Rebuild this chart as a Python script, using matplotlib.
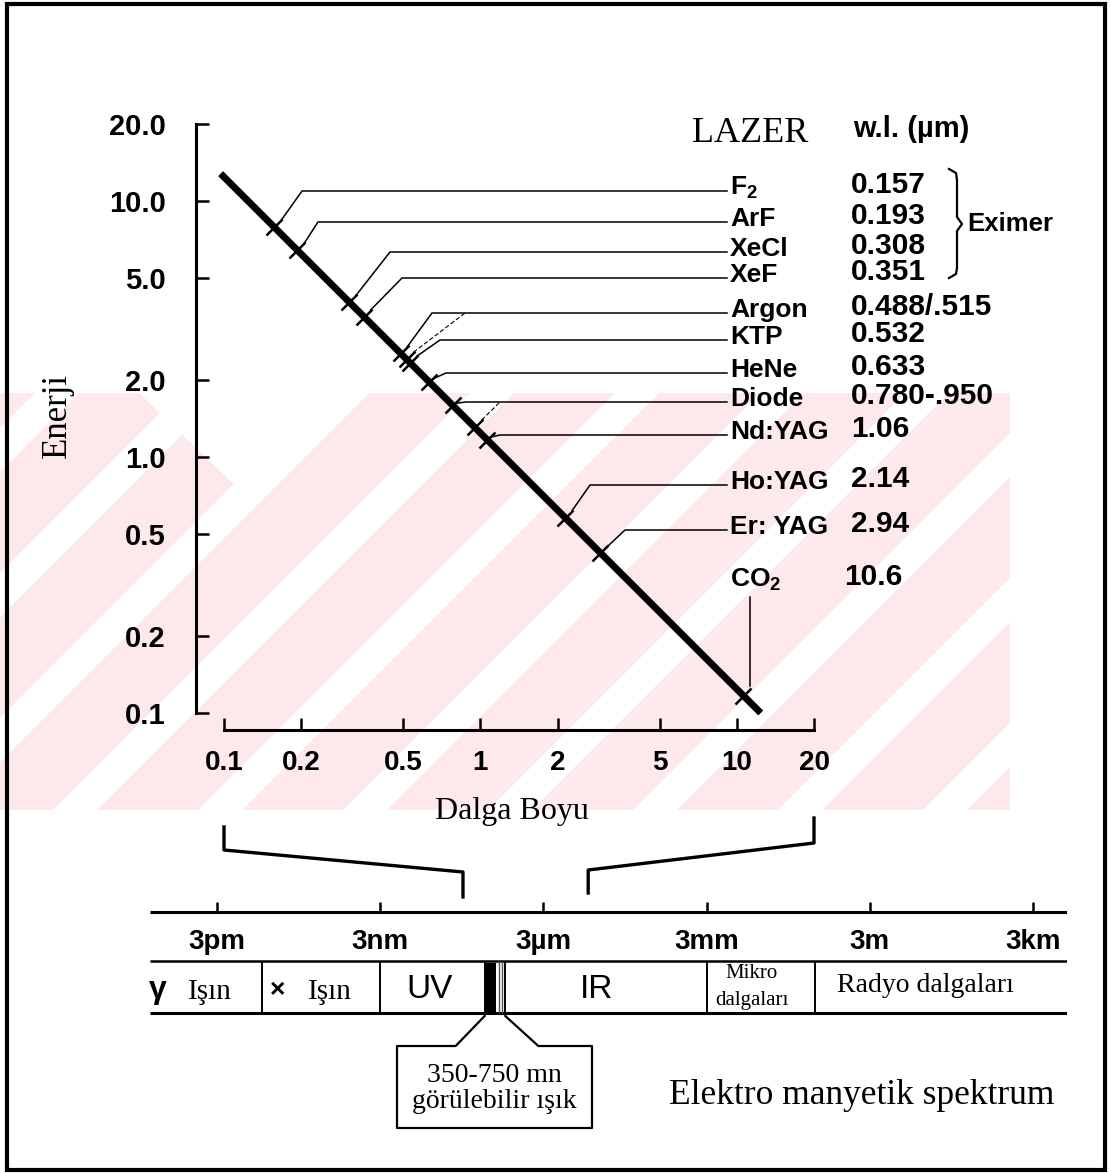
from __future__ import annotations

import matplotlib

matplotlib.use("Agg")
import matplotlib.pyplot as plt
from matplotlib import font_manager
from matplotlib.lines import Line2D
from matplotlib.patches import Polygon, Rectangle

W, H, DPI = 1111, 1173, 100

# laser table, top to bottom
LASER_NAMES = [r"$\mathbf{F_2}$", "ArF", "XeCl", "XeF", "Argon", "KTP", "HeNe", "Diode",
               "Nd:YAG", "Ho:YAG", "Er: YAG", r"$\mathbf{CO_2}$"]
LASER_WL_TEXT = ["0.157", "0.193", "0.308", "0.351", "0.488/.515", "0.532", "0.633",
                 "0.780-.950", "1.06", "2.14", "2.94", "10.6"]

# lines marked on the curve: wavelength (um) and photon energy (eV)
MARK_WL = [0.157, 0.193, 0.308, 0.351, 0.488, 0.515, 0.532, 0.633, 0.780, 0.950, 1.06, 2.14, 2.94, 10.6]
MARK_E = [7.90, 6.42, 4.03, 3.53, 2.54, 2.41, 2.33, 1.96, 1.59, 1.31, 1.17, 0.58, 0.42, 0.117]
MARK_ROW = [0, 1, 2, 3, 4, 4, 5, 6, 7, 7, 8, 9, 10, 11]

LINE_WL = [0.097, 12.4]
LINE_E = [12.8, 0.10]

X_TICKS = [0.1, 0.2, 0.5, 1, 2, 5, 10, 20]
X_TICK_LABELS = ["0.1", "0.2", "0.5", "1", "2", "5", "10", "20"]
Y_TICKS = [0.1, 0.2, 0.5, 1, 2, 5, 10, 20]
Y_TICK_LABELS = ["0.1", "0.2", "0.5", "1.0", "2.0", "5.0", "10.0", "20.0"]

# electromagnetic spectrum strip (metres)
SPEC_TICKS_M = [3e-12, 3e-9, 3e-6, 3e-3, 3.0, 3e3]
SPEC_TICK_LABELS = ["3pm", "3nm", "3µm", "3mm", "3m", "3km"]
BAND_EDGES_M = [2e-11, 3e-9, 2.5e-7, 6e-7, 3e-3, 0.3]
BAND_NAMES = ["γ Işın", "× Işın", "UV", "IR", "Mikro\ndalgaları", "Radyo dalgaları"]
VISIBLE_M = [2.5e-7, 4e-7, 6e-7]
ZOOM_RANGE_M = [1e-7, 2e-5]

# layout (pixels from top-left)
ROW_Y = [191, 222, 252, 278, 313, 340, 373, 402, 435, 485, 530, 583]
KNEE_X = [302, 318, 390, 402, 432, 465, 440, 446, 466, 500, 500, 590, 625, None]
SECONDARY = [5, 9]
BAND_LABEL_X = [198, 318, 430, 597, 752, 925]

fonts = {f.name for f in font_manager.fontManager.ttflist}
SANS = "Liberation Sans" if "Liberation Sans" in fonts else "DejaVu Sans"
SERIF = "Liberation Serif" if "Liberation Serif" in fonts else "DejaVu Serif"

plt.rcParams.update({
    "font.family": [SANS, "DejaVu Sans"],
    "mathtext.fontset": "custom",
    "mathtext.rm": f"{SANS}:bold",
    "mathtext.bf": f"{SANS}:bold",
    "mathtext.it": f"{SANS}:bold",
})

fig = plt.figure(figsize=(W / DPI, H / DPI), dpi=DPI)
fig.patch.set_facecolor("white")


def pixel_axes(z):
    a = fig.add_axes([0, 0, 1, 1], zorder=z)
    a.set_xlim(0, W)
    a.set_ylim(H, 0)
    a.axis("off")
    a.patch.set_alpha(0)
    return a


def to_px(axes, x, y):
    dx, dy = axes.transData.transform((x, y))
    return dx, H - dy


# faint watermark behind everything
bg = pixel_axes(0)
PINK = "#fde8eb"
band = Rectangle((0, 393), 1010, 417, color=PINK, lw=0)
bg.add_patch(band)
for c in range(450, 1800, 145):
    w = 22
    stripe = Polygon([(c - 393 - w, 393), (c - 393 + w, 393), (c - 810 + w, 810), (c - 810 - w, 810)],
                     color="white", lw=0)
    bg.add_patch(stripe)
    stripe.set_clip_path(band)
bg.add_patch(Polygon([(139, 393), (346, 393), (250, 500)], color="white", lw=0))

# energy vs wavelength panel
ax = fig.add_axes([224 / W, 1 - 713 / H, (814 - 224) / W, (713 - 124) / H], zorder=2)
ax.patch.set_alpha(0)
ax.set_xscale("log")
ax.set_yscale("log")
ax.set_xlim(0.1, 20)
ax.set_ylim(0.1, 20)
ax.plot(LINE_WL, LINE_E, color="black", lw=5, solid_capstyle="butt", clip_on=False)
ax.plot(MARK_WL, MARK_E, ls="none", marker="x", ms=11, mew=1.8, color="black", clip_on=False)

for side in ["top", "right"]:
    ax.spines[side].set_visible(False)
ax.spines["left"].set_position(("outward", 20))
ax.spines["bottom"].set_position(("outward", 12))
for side in ["left", "bottom"]:
    ax.spines[side].set_linewidth(2.2)
ax.set_xticks(X_TICKS, X_TICK_LABELS)
ax.set_yticks(Y_TICKS, Y_TICK_LABELS)
ax.minorticks_off()
ax.tick_params(axis="both", direction="in", length=9, width=1.8)
ax.tick_params(axis="x", pad=15, labelsize=20)
ax.tick_params(axis="y", pad=22, labelsize=21)
for lab in ax.get_xticklabels() + ax.get_yticklabels():
    lab.set_fontweight("bold")

# spectrum strip
sax = fig.add_axes([150 / W, 1 - 1020 / H, 917 / W, 115 / H], zorder=2)
sax.set_xscale("log")
sax.set_xlim(1.77e-13, 1.26e4)
sax.set_ylim(1020, 905)
sax.axis("off")
x0, x1 = sax.get_xlim()
sax.plot([x0, x1], [912, 912], color="black", lw=2.2, solid_capstyle="butt")
sax.vlines(SPEC_TICKS_M, 902, 912, color="black", lw=1.8, clip_on=False)
for v, lab in zip(SPEC_TICKS_M, SPEC_TICK_LABELS):
    sax.text(v, 942, lab, ha="center", va="center", fontsize=20, fontweight="bold")
sax.plot([x0, x1], [961, 961], color="black", lw=1.8, solid_capstyle="butt")
sax.plot([x0, x1], [1013, 1013], color="black", lw=2.2, solid_capstyle="butt")
sax.vlines(BAND_EDGES_M, 961, 1013, color="black", lw=1.4)
sax.axvspan(VISIBLE_M[0], VISIBLE_M[1], ymin=0.06, ymax=0.5, color="black", lw=0)
for v in [4.6e-7, 5.2e-7]:
    sax.vlines(v, 961, 1013, color="#555555", lw=1.0)

pax = pixel_axes(3)

# leader lines from each marked point to its row in the table
for i, (wl, e) in enumerate(zip(MARK_WL, MARK_E)):
    mx, my = to_px(ax, wl, e)
    row_y = ROW_Y[MARK_ROW[i]]
    if KNEE_X[i] is None:
        pax.plot([mx + 7, mx + 7], [597, my - 10], color="black", lw=1.1)
        continue
    d = min(7, max(2, (my - row_y) * 0.35))
    sx, sy = mx + d, my - d
    kx = KNEE_X[i]
    if i in SECONDARY:
        pax.plot([sx, kx], [sy, row_y], color="black", lw=0.8, ls=(0, (4, 2)))
    else:
        pax.plot([sx, kx, 727], [sy, row_y, row_y], color="black", lw=1.1)

for name, wl_text, y in zip(LASER_NAMES, LASER_WL_TEXT, ROW_Y):
    pax.text(730, y - 3, name, ha="left", va="center", fontsize=19, fontweight="bold")
    vx = 844 if wl_text == "10.6" else 851
    pax.text(vx, y - 6, wl_text, ha="left", va="center", fontsize=21.5, fontweight="bold")

pax.text(750, 133, "LAZER", ha="center", va="center", fontsize=26, family=SERIF)
pax.text(911, 129, "w.l. (µm)", ha="center", va="center", fontsize=21, fontweight="bold")
brace = [(949, 169), (956, 173), (957, 180), (957, 217), (962, 224), (957, 231),
         (957, 268), (956, 274), (949, 278)]
pax.add_line(Line2D([p[0] for p in brace], [p[1] for p in brace], color="black", lw=1.6))
pax.text(967, 224, "Eximer", ha="left", va="center", fontsize=18.5, fontweight="bold")

pax.text(57, 415, "Enerji", ha="center", va="center", fontsize=25, family=SERIF, rotation=90)
pax.text(512, 812, "Dalga Boyu", ha="center", va="center", fontsize=23, family=SERIF)

# brackets from the panel's wavelength range down to the spectrum
lx_top = to_px(ax, X_TICKS[0], 0.1)[0]
rx_top = to_px(ax, X_TICKS[-1], 0.1)[0]
lx_bot = to_px(sax, ZOOM_RANGE_M[0], 912)[0]
rx_bot = to_px(sax, ZOOM_RANGE_M[1], 912)[0]
pax.plot([lx_top, lx_top, lx_bot, lx_bot], [827, 850, 872, 897], color="black", lw=2.4)
pax.plot([rx_top, rx_top, rx_bot, rx_bot], [818, 843, 870, 893], color="black", lw=2.4)

# band names
for name, x in zip(BAND_NAMES, BAND_LABEL_X):
    if name[0] in "γ×":
        pax.text(x - 40, 990, name[0], ha="center", va="center",
                 fontsize=23 if name[0] == "γ" else 19, fontweight="bold")
        pax.text(x + 12, 992, name[2:], ha="center", va="center", fontsize=21, family=SERIF)
    elif "\n" in name:
        top, bot = name.split("\n")
        pax.text(x, 973, top, ha="center", va="center", fontsize=15, family=SERIF)
        pax.text(x, 1000, bot, ha="center", va="center", fontsize=15, family=SERIF)
    elif name in ("UV", "IR"):
        pax.text(x, 989, name, ha="center", va="center", fontsize=24)
    else:
        pax.text(x, 985, name, ha="center", va="center", fontsize=20, family=SERIF)

# visible light call-out
vl = to_px(sax, VISIBLE_M[0], 1013)[0]
vr = to_px(sax, VISIBLE_M[-1], 1013)[0]
callout = [(vl, 1016), (vl - 29, 1046), (397, 1046), (397, 1128), (592, 1128), (592, 1046),
           (vr + 33, 1046), (vr, 1016)]
pax.add_line(Line2D([p[0] for p in callout], [p[1] for p in callout], color="black", lw=1.6))
pax.text(494, 1075, "350-750 mn", ha="center", va="center", fontsize=20, family=SERIF)
pax.text(494, 1102, "görülebilir ışık", ha="center", va="center", fontsize=20, family=SERIF)
pax.text(862, 1095, "Elektro manyetik spektrum", ha="center", va="center", fontsize=25.5, family=SERIF)

pax.add_patch(Rectangle((7, 4), 1098, 1166, fill=False, lw=3, ec="black"))

fig.savefig("out.png", dpi=DPI)
